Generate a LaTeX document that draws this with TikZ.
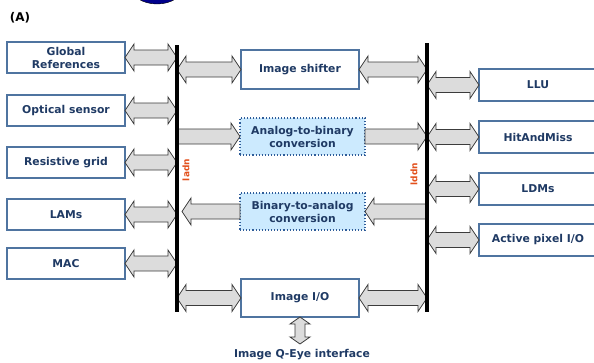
\documentclass[tikz,border=0pt]{standalone}
\usepackage{fontspec}
\setmainfont{DejaVu Sans}
\usepackage{xcolor}
\usepackage{tikz}
\usetikzlibrary{positioning,calc}

\definecolor{boxline}{HTML}{4F74A0}
\definecolor{txtnavy}{HTML}{1F3A64}
\definecolor{convfill}{HTML}{CCEAFE}
\definecolor{convline}{HTML}{2E5C99}
\definecolor{arrfill}{HTML}{DCDCDC}
\definecolor{arrline}{HTML}{3C3C3C}
\definecolor{lblorange}{HTML}{E2501C}

% sizes of the fat arrows (head length, head half width, shaft half width)
\def\hl{9}\def\hw{13.5}\def\sw{7.5}

\newcommand{\dblarrow}[2]{%
  \draw[fatarr] let \p1=(#1), \p2=(#2),
      \n1={atan2(\y2-\y1,\x2-\x1)}, \n2={atan2(\hw,\hl)}, \n3={veclen(\hl,\hw)},
      \n4={atan2(\sw,\hl)}, \n5={veclen(\hl,\sw)} in
    (\p1) -- ($(\p1)+({\n1+\n2}:\n3)$) -- ($(\p1)+({\n1+\n4}:\n5)$)
    -- ($(\p2)+({\n1+180-\n4}:\n5)$) -- ($(\p2)+({\n1+180-\n2}:\n3)$)
    -- (\p2) -- ($(\p2)+({\n1+180+\n2}:\n3)$) -- ($(\p2)+({\n1+180+\n4}:\n5)$)
    -- ($(\p1)+({\n1-\n4}:\n5)$) -- ($(\p1)+({\n1-\n2}:\n3)$) -- cycle;}

\newcommand{\sglarrow}[2]{%
  \draw[fatarr] let \p1=(#1), \p2=(#2),
      \n1={atan2(\y2-\y1,\x2-\x1)}, \n2={atan2(\hw,\hl)}, \n3={veclen(\hl,\hw)},
      \n4={atan2(\sw,\hl)}, \n5={veclen(\hl,\sw)} in
    ($(\p1)+({\n1+90}:\sw)$)
    -- ($(\p2)+({\n1+180-\n4}:\n5)$) -- ($(\p2)+({\n1+180-\n2}:\n3)$)
    -- (\p2) -- ($(\p2)+({\n1+180+\n2}:\n3)$) -- ($(\p2)+({\n1+180+\n4}:\n5)$)
    -- ($(\p1)+({\n1-90}:\sw)$) -- cycle;}

\begin{document}
\begin{tikzpicture}[
  x=1pt, y=1pt,
  blk/.style={draw=boxline, line width=1.1pt, fill=white, text=txtnavy,
              minimum width=118pt, minimum height=31pt, inner sep=1pt, outer sep=0pt,
              font=\fontsize{10.8}{13}\selectfont\bfseries, align=center},
  conv/.style={blk, fill=convfill, draw=convline, dotted, line width=1.2pt,
               minimum width=125pt, minimum height=37pt},
  fatarr/.style={draw=arrline, fill=arrfill, line width=0.8pt, line join=miter},
  bus/.style={line width=3.6pt, line cap=butt},
  buslbl/.style={text=lblorange, rotate=90, inner sep=0pt,
                 font=\fontsize{9}{10}\selectfont\bfseries},
]
  \useasboundingbox (0,0) rectangle (594,-362);
  \begin{scope}
    \clip (0,0) rectangle (594,-362);
    \filldraw[draw=black, fill=blue!55!black] (157,13) ellipse (26 and 17);
  \end{scope}

  \node[font=\fontsize{12}{14}\selectfont\bfseries] (tag) at (20,-18) {(A)};

  % left column
  \node[blk] (glob) at (66,-57.5) {Global\\References};
  \node[blk, below=22pt of glob] (opt) {Optical sensor};
  \node[blk, below=21pt of opt] (res) {Resistive grid};
  \node[blk, below=21pt of res] (lams) {LAMs};
  \node[blk, below=18pt of lams] (mac) {MAC};

  % middle column
  \node[blk, minimum height=39pt] (shift) at (300,-69.5) {Image shifter};
  \node[conv] (a2b) at (302.5,-136.5) {Analog-to-binary\\conversion};
  \node[conv] (b2a) at (302.5,-211.5) {Binary-to-analog\\conversion};
  \node[blk, minimum height=38pt] (imgio) at (300,-298) {Image I/O};
  \node[text=txtnavy, font=\fontsize{10.8}{13}\selectfont\bfseries]
    (qeye) at (302,-355) {Image Q-Eye interface};

  % right column
  \node[blk, minimum height=32pt] (llu) at (538,-85) {LLU};
  \node[blk, minimum height=32pt, below=20pt of llu] (ham) {HitAndMiss};
  \node[blk, minimum height=32pt, below=20pt of ham] (ldm) {LDMs};
  \node[blk, minimum height=32pt, below=19pt of ldm] (apx) {Active pixel I/O};

  % buses
  \coordinate (lbtop) at (177,-45);
  \coordinate (lbbot) at (177,-312);
  \coordinate (rbtop) at (427,-43);
  \coordinate (rbbot) at (427,-312);
  \coordinate (qtip) at (300,-344);

  \dblarrow{glob.east}{glob.east -| lbtop}
  \dblarrow{opt.east}{opt.east -| lbtop}
  \dblarrow{res.east}{res.east -| lbtop}
  \dblarrow{lams.east}{lams.east -| lbtop}
  \dblarrow{mac.east}{mac.east -| lbtop}

  \dblarrow{shift.west -| lbtop}{shift.west}
  \dblarrow{shift.east}{shift.east -| rbtop}
  \sglarrow{a2b.west -| lbtop}{a2b.west}
  \sglarrow{a2b.east}{a2b.east -| rbtop}
  \sglarrow{b2a.east -| rbtop}{b2a.east}
  \sglarrow{b2a.west}{$(b2a.west -| lbtop)+(5,0)$}
  \dblarrow{imgio.west -| lbtop}{imgio.west}
  \dblarrow{imgio.east}{imgio.east -| rbtop}

  \dblarrow{rbtop |- llu.west}{llu.west}
  \dblarrow{rbtop |- ham.west}{ham.west}
  \dblarrow{rbtop |- ldm.west}{ldm.west}
  \dblarrow{rbtop |- apx.west}{apx.west}

  {\def\hl{7}\def\hw{10}\def\sw{5}
   \dblarrow{imgio.south}{qtip}}

  \draw[bus] (lbtop) -- (lbbot);
  \draw[bus] (rbtop) -- (rbbot);

  \node[buslbl] (ladn) at (186,-170) {ladn};
  \node[buslbl] (lddn) at (414,-174) {lddn};
\end{tikzpicture}
\end{document}
